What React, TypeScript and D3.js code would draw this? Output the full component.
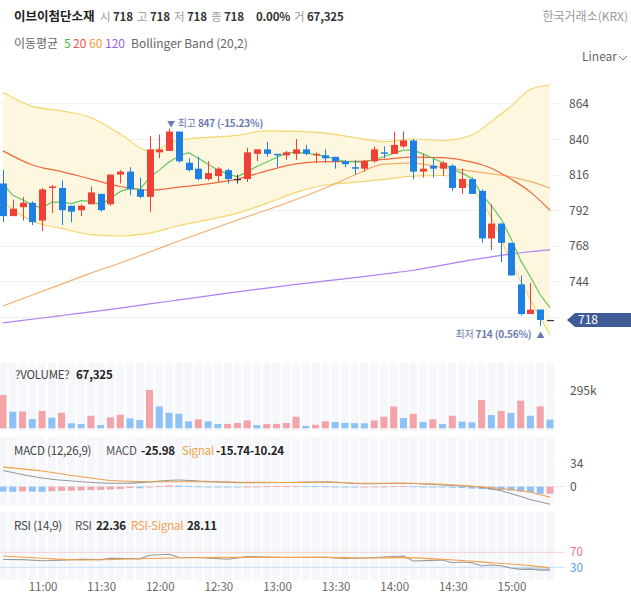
import * as d3 from 'd3'

// 5-minute candles, 10:40 .. 15:20
const opens = [810, 788, 794, 797, 785, 807, 807, 795, 792, 796, 803, 796, 816, 818, 806, 801, 831, 832, 845, 824, 820, 813, 815, 819, 813, 813, 830, 833, 830, 829, 830, 833, 829, 829, 828, 825, 821, 820, 825, 831, 830, 835, 839, 818, 822, 820, 822, 807, 813, 805, 773, 783, 770, 742, 722, 725, 718]
const highs = [819, 799, 801, 798, 807, 809, 812, 795, 796, 808, 803, 816, 819, 821, 814, 842, 843, 847, 845, 827, 828, 825, 821, 820, 816, 834, 833, 838, 830, 832, 840, 836, 831, 833, 828, 826, 826, 826, 835, 835, 845, 845, 840, 830, 827, 825, 823, 820, 814, 806, 796, 783, 770, 748, 743, 725, 718]
const lows = [784, 788, 785, 782, 778, 790, 782, 784, 788, 796, 791, 795, 810, 802, 800, 791, 827, 832, 824, 818, 812, 812, 811, 810, 810, 811, 825, 828, 821, 826, 826, 829, 824, 824, 820, 821, 816, 818, 824, 827, 830, 834, 813, 814, 814, 815, 805, 803, 803, 770, 765, 757, 748, 721, 722, 714, 718]
const closes = [788, 793, 797, 784, 806, 808, 792, 791, 795, 804, 792, 816, 818, 806, 801, 833, 833, 845, 825, 819, 813, 817, 820, 813, 813, 831, 833, 830, 829, 831, 833, 830, 830, 827, 825, 823, 820, 825, 833, 830, 836, 839, 818, 820, 820, 824, 807, 813, 803, 773, 783, 770, 748, 722, 725, 718, 718]
const volumes = [256000, 128000, 130000, 72000, 133000, 82000, 120000, 38500, 33000, 97000, 25000, 85000, 105000, 76000, 64000, 295000, 168000, 120000, 112000, 54000, 69000, 54000, 33000, 34000, 41000, 61000, 25000, 33000, 34000, 41000, 89000, 18000, 28000, 54000, 48000, 41000, 40000, 39000, 61000, 89000, 168000, 79000, 112000, 48000, 69000, 33000, 97000, 51000, 46000, 218000, 102000, 133000, 118000, 213000, 97000, 169000, 67325]

const ma5 = [810, 802, 799, 795.5, 793.5, 797.5, 797.5, 796.5, 798.5, 798, 795.5, 800, 804.5, 807, 806, 814, 819, 824.5, 828.5, 830.8, 827, 823, 819, 816.5, 814.5, 818, 821.5, 824.5, 827.5, 830.5, 831, 830.5, 829.5, 828.5, 826.5, 825, 824.5, 824.5, 826, 828, 830.5, 832.5, 832.5, 830, 827, 824, 819.5, 817, 813.5, 803, 795, 786, 773, 758, 747, 735, 726.3]

// slower lines, read at these candle positions
const smoothIdx = [0, 3, 6, 9, 12, 15, 18, 21, 24, 27, 30, 33, 36, 39, 42, 45, 48, 50, 52, 54, 56]
const ma20 = [832, 822.5, 818, 813, 808, 805.5, 807.5, 809.8, 813, 818.5, 823.2, 824.7, 824.9, 826.2, 827.8, 827.5, 824.4, 820.3, 813, 804.2, 792]
const ma60 = [727.4, 734.8, 742.2, 749.6, 756.4, 763.8, 771.2, 778.3, 785.4, 792.1, 799.2, 807, 815.7, 823, 823.8, 820.8, 818.4, 816.5, 814.5, 811.3, 807]
const ma120 = [716, 718.5, 721, 723.5, 726, 728.8, 731.5, 734.2, 737, 739.5, 742, 744.3, 746.5, 749, 751.5, 755, 758.5, 760.5, 762.5, 764, 765.2]
const bbUpper = [871.5, 862, 859, 854.5, 843.5, 832, 839.3, 841.1, 842.5, 845.5, 845.2, 844, 841, 838.2, 840, 839, 842.7, 852, 862, 873.5, 876.4]
const bbLower = [797.5, 784.5, 779.7, 775.5, 774.6, 776.5, 781.5, 785.6, 790, 796.6, 804, 809, 810.8, 812.8, 815, 815.4, 806.5, 787, 757, 731.5, 708]

const macdHist = [-7.2, -7.6, -7.0, -7.3, -7.5, -6.6, -6.2, -5.9, -5.6, -5.0, -4.6, -4.0, -3.5, -2.0, -2.3, -0.8, 1.2, 2.0, 1.6, 1.0, 0.4, -0.2, -0.6, -1.0, -1.2, -0.4, 0.2, 0.6, 0.8, 1.0, 1.2, 1.0, 0.8, 0.5, 0.1, -0.3, -0.6, -0.5, 0.2, 0.3, 0.8, 1.2, 0.5, 0.1, -0.4, -0.6, -1.5, -2.0, -2.8, -3.5, -4.3, -5.0, -5.8, -7.2, -8.2, -10.5, -10.24]
const macdIdx = [0, 4, 8, 12, 15, 18, 20, 25, 29, 33, 37, 41, 45, 49, 51, 52, 54, 56]
const macdLine = [24, 12.9, 7.4, 5.0, 7.0, 9.9, 8.4, 5.9, 6.2, 7.4, 4.4, 5.0, 2.5, -1, -6, -10, -19, -25.98]
const signalIdx = [0, 4, 8, 12, 16, 20, 25, 29, 33, 37, 41, 45, 50, 54, 56]
const signalLine = [29, 23.2, 14.8, 8.4, 7.4, 7.4, 6.5, 6.2, 6.5, 5.0, 5.0, 3.6, -1.5, -8.3, -15.74]

const rsiIdx = [0, 2, 4, 6, 8, 10, 11, 13, 14, 15, 17, 18, 20, 23, 25, 29, 33, 35, 37, 41, 42, 44, 45, 46, 47, 48, 49, 50, 51, 52, 53, 54, 55, 56]
const rsiLine = [51, 50.5, 47.6, 49, 51.3, 50.5, 54, 53.5, 52.5, 62, 64.7, 57, 56, 51.3, 58.4, 56, 56.6, 53.5, 55, 60.1, 47, 48.5, 49.5, 42.3, 44, 42, 33.5, 36, 34, 28, 24.5, 25, 22.5, 22.36]
const rsiSigIdx = [0, 4, 8, 12, 16, 20, 25, 29, 33, 37, 41, 45, 50, 54, 56]
const rsiSignal = [60, 54, 49.5, 51.3, 54, 55.7, 56.6, 56.6, 56.6, 54.8, 55.7, 51.3, 42.3, 34.4, 28.11]

const priceTicks = [864, 840, 816, 792, 768, 744, 720]
const timeIdx = [4, 10, 16, 22, 28, 34, 40, 46, 52]
const timeLabels = ['11:00', '11:30', '12:00', '12:30', '13:00', '13:30', '14:00', '14:30', '15:00']

const RED = '#ef4136'
const BLUE = '#1f80e3'
const VRED = '#f4a3a8'
const VBLUE = '#8ec2f6'
const FONT = "'Noto Sans CJK KR', 'Noto Sans', sans-serif"

export default function App() {
  const n = closes.length
  const x = d3.scaleLinear().domain([0, n - 1]).range([3, 550])
  const y = d3.scaleLinear().domain([720, 864]).range([317, 103.4])
  const yVol = d3.scaleLinear().domain([0, 295000]).range([428.3, 390])
  const yMacd = d3.scaleLinear().domain([0, 34]).range([486.7, 463.7])
  const yRsi = d3.scaleLinear().domain([30, 70]).range([567.3, 552.3])

  const smoothLine = d3.line<number>().x((_, k) => x(smoothIdx[k])).y(v => y(v)).curve(d3.curveMonotoneX)
  const ma5Line = d3.line<number>().x((_, i) => x(i)).y(v => y(v))
  const band = d3.area<number>()
    .x((_, k) => x(smoothIdx[k]))
    .y0((_, k) => y(bbLower[k]))
    .y1(v => y(v))
    .curve(d3.curveMonotoneX)
  const idxLine = (idx: number[], sc: d3.ScaleLinear<number, number>, curve = d3.curveMonotoneX) =>
    d3.line<number>().x((_, k) => x(idx[k])).y(v => sc(v)).curve(curve)
  const rsiLow = d3.area<number>()
    .x((_, k) => x(rsiIdx[k]))
    .y0(yRsi(30))
    .y1(v => yRsi(Math.min(v, 30)))

  const last = n - 1
  const hiI = d3.maxIndex(highs)
  const loI = d3.minIndex(lows)
  const pct = (v: number) => ((closes[last] / v - 1) * 100).toFixed(2)
  const chg = ((closes[last] / closes[last - 1] - 1) * 100).toFixed(2)
  const fmt = d3.format(',')
  const px = (i: number) => Math.round(x(i)) + 0.5

  const stripes = (top: number, bottom: number) =>
    closes.map((_, i) => (
      <rect key={i} x={x(i) - 4} y={top} width={8} height={bottom - top} fill="#f5f7fa" />
    ))

  const tagY = y(closes[last])

  return (
    <svg width={631} height={594} style={{ position: 'absolute', left: 0, top: 0, background: '#fff' }} fontFamily={FONT}>
      {/* header */}
      <text y={21} fontSize={11.5} letterSpacing={-0.2}>
        <tspan x={14} fontWeight="bold" fill="#222" fontSize={12.5} letterSpacing={0}>이브이첨단소재</tspan>
        <tspan x={100} fill="#999">시</tspan>
        <tspan x={113} fontWeight="bold" fill="#333">{opens[last]}</tspan>
        <tspan x={137} fill="#999">고</tspan>
        <tspan x={150} fontWeight="bold" fill="#333">{highs[last]}</tspan>
        <tspan x={174} fill="#999">저</tspan>
        <tspan x={187} fontWeight="bold" fill="#333">{lows[last]}</tspan>
        <tspan x={211} fill="#999">종</tspan>
        <tspan x={224} fontWeight="bold" fill="#333">{closes[last]}</tspan>
        <tspan x={256} fontWeight="bold" fill="#333">{chg}%</tspan>
        <tspan x={294} fill="#999">거</tspan>
        <tspan x={307} fontWeight="bold" fill="#333">{fmt(volumes[last])}</tspan>
      </text>
      <text x={628} y={21} fontSize={12} fill="#999" textAnchor="end">한국거래소(KRX)</text>
      <text y={48} fontSize={12}>
        <tspan x={14} fill="#666">이동평균</tspan>
        <tspan x={64} fill="#37b44a">5</tspan>
        <tspan x={73} fill="#f0524f">20</tspan>
        <tspan x={89} fill="#f29b38">60</tspan>
        <tspan x={105} fill="#9c5fe0">120</tspan>
        <tspan x={131} fill="#666">Bollinger Band (20,2)</tspan>
      </text>
      <text x={582} y={61} fontSize={12} fill="#666">Linear</text>
      <path d="M619,56 L623,60 L627,56" fill="none" stroke="#777" strokeWidth={1} />

      {/* main price chart */}
      <defs>
        <clipPath id="mainClip">
          <rect x={0} y={70} width={556} height={280} />
        </clipPath>
      </defs>
      {priceTicks.map(t => (
        <line key={t} x1={0} x2={560} y1={Math.round(y(t)) + 0.5} y2={Math.round(y(t)) + 0.5} stroke="#f0f0f0" />
      ))}
      <g clipPath="url(#mainClip)">
        <path d={band(bbUpper) ?? ''} fill="#fef7df" />
        <path d={smoothLine(bbUpper) ?? ''} fill="none" stroke="#f6d56c" strokeWidth={1.2} />
        <path d={smoothLine(bbLower) ?? ''} fill="none" stroke="#f6d56c" strokeWidth={1.2} />
        <path d={smoothLine(ma120) ?? ''} fill="none" stroke="#b07ff2" strokeWidth={1.2} />
        <path d={smoothLine(ma60) ?? ''} fill="none" stroke="#f6ad6e" strokeWidth={1.2} />
        <path d={smoothLine(ma20) ?? ''} fill="none" stroke="#f0683f" strokeWidth={1.2} />
        <path d={ma5Line(ma5) ?? ''} fill="none" stroke="#62c85e" strokeWidth={1.2} />
        {closes.map((c, i) => {
          const o = opens[i]
          const col = c > o ? RED : c < o ? BLUE : '#333'
          const cx = px(i)
          const top = y(Math.max(o, c))
          const bot = y(Math.min(o, c))
          return (
            <g key={i}>
              <line x1={cx} x2={cx} y1={y(highs[i])} y2={y(lows[i])} stroke={col} strokeWidth={1} />
              <rect x={cx - 3.5} y={top} width={7} height={Math.max(bot - top, 1.2)} fill={col} />
            </g>
          )
        })}
      </g>
      {/* the label of the tick hidden under the price tag is left out */}
      {priceTicks.filter(t => Math.abs(y(t) - tagY) > 10).map(t => (
        <text key={t} x={569} y={y(t) + 4.5} fontSize={12} fill="#555">{t}</text>
      ))}
      <text x={x(hiI) - 2} y={y(highs[hiI]) - 2} fontSize={10} fill="#6a7bb0" letterSpacing={-0.2}>
        <tspan fontSize={8}>▼</tspan>
        <tspan dx={3}>최고 </tspan>
        <tspan fontWeight="bold">{highs[hiI]} ({pct(highs[hiI])}%)</tspan>
      </text>
      <text x={x(loI) + 4} y={y(lows[loI]) + 12} fontSize={10} fill="#6a7bb0" textAnchor="end" letterSpacing={-0.2}>
        <tspan>최저 </tspan>
        <tspan fontWeight="bold">{lows[loI]} ({pct(lows[loI])}%)</tspan>
        <tspan dx={5} fontSize={8}>▲</tspan>
      </text>
      <path
        d={`M567,${tagY} L575,${tagY - 7} L631,${tagY - 7} L631,${tagY + 7} L575,${tagY + 7} Z`}
        fill="#3f5b96"
      />
      <text x={578} y={tagY + 4.5} fontSize={12} fill="#fff">{closes[last]}</text>

      {/* volume */}
      {stripes(363, 431)}
      {volumes.map((v, i) => (
        <rect key={i} x={x(i) - 3.5} y={yVol(v)} width={7} height={yVol(0) - yVol(v)}
          fill={i === 0 || v > volumes[i - 1] ? VRED : VBLUE} />
      ))}
      <text y={379} fontSize={11.5} letterSpacing={-0.2}>
        <tspan x={15} fill="#444">?VOLUME?</tspan>
        <tspan x={76} fontWeight="bold" fill="#222">{fmt(volumes[last])}</tspan>
      </text>
      <text x={570} y={yVol(295000) + 4.5} fontSize={12} fill="#555">{d3.format('.3s')(295000)}</text>

      {/* MACD */}
      {stripes(437, 506)}
      <line x1={0} x2={565} y1={yMacd(0)} y2={yMacd(0)} stroke="#e2e4e8" />
      {macdHist.map((v, i) => (
        <rect key={i} x={x(i) - 3.5} y={Math.min(yMacd(v), yMacd(0))} width={7}
          height={Math.max(Math.abs(yMacd(v) - yMacd(0)), 0.8)}
          fill={i > 0 && v > macdHist[i - 1] ? VRED : VBLUE} />
      ))}
      <path d={idxLine(macdIdx, yMacd)(macdLine) ?? ''} fill="none" stroke="#999" strokeWidth={1.1} />
      <path d={idxLine(signalIdx, yMacd)(signalLine) ?? ''} fill="none" stroke="#f2a04a" strokeWidth={1.1} />
      <text y={455} fontSize={11.5} letterSpacing={-0.2}>
        <tspan x={14} fill="#444">MACD (12,26,9)</tspan>
        <tspan x={106} fill="#555">MACD</tspan>
        <tspan x={141} fontWeight="bold" fill="#222">{macdLine[macdLine.length - 1]}</tspan>
        <tspan x={182} fill="#f2a04a">Signal</tspan>
        <tspan x={216} fontWeight="bold" fill="#222">{signalLine[signalLine.length - 1]}{macdHist[last]}</tspan>
      </text>
      {[34, 0].map(t => (
        <text key={t} x={570} y={yMacd(t) + 4.5} fontSize={12} fill="#555">{t}</text>
      ))}

      {/* RSI */}
      {stripes(512, 580)}
      <line x1={0} x2={565} y1={yRsi(70)} y2={yRsi(70)} stroke="#f7cdd1" />
      <line x1={0} x2={565} y1={yRsi(30)} y2={yRsi(30)} stroke="#c9def5" />
      <path d={rsiLow(rsiLine) ?? ''} fill="#b9d6f5" opacity={0.8} />
      <path d={idxLine(rsiIdx, yRsi, d3.curveLinear)(rsiLine) ?? ''} fill="none" stroke="#999" strokeWidth={1.1} />
      <path d={idxLine(rsiSigIdx, yRsi)(rsiSignal) ?? ''} fill="none" stroke="#f2a04a" strokeWidth={1.1} />
      <text y={530} fontSize={11.5} letterSpacing={-0.2}>
        <tspan x={14} fill="#444">RSI (14,9)</tspan>
        <tspan x={75} fill="#555">RSI</tspan>
        <tspan x={96} fontWeight="bold" fill="#222">{rsiLine[rsiLine.length - 1]}</tspan>
        <tspan x={131} fill="#f2a04a">RSI-Signal</tspan>
        <tspan x={187} fontWeight="bold" fill="#222">{rsiSignal[rsiSignal.length - 1]}</tspan>
      </text>
      <text x={570} y={yRsi(70) + 4} fontSize={11.5} fill="#e8737f">70</text>
      <text x={570} y={yRsi(30) + 4.5} fontSize={11.5} fill="#4a9ae8">30</text>

      {/* time axis */}
      {timeIdx.map((t, k) => (
        <text key={t} x={x(t) + 1} y={591} fontSize={11.5} fill="#666" textAnchor="middle">{timeLabels[k]}</text>
      ))}
    </svg>
  )
}
